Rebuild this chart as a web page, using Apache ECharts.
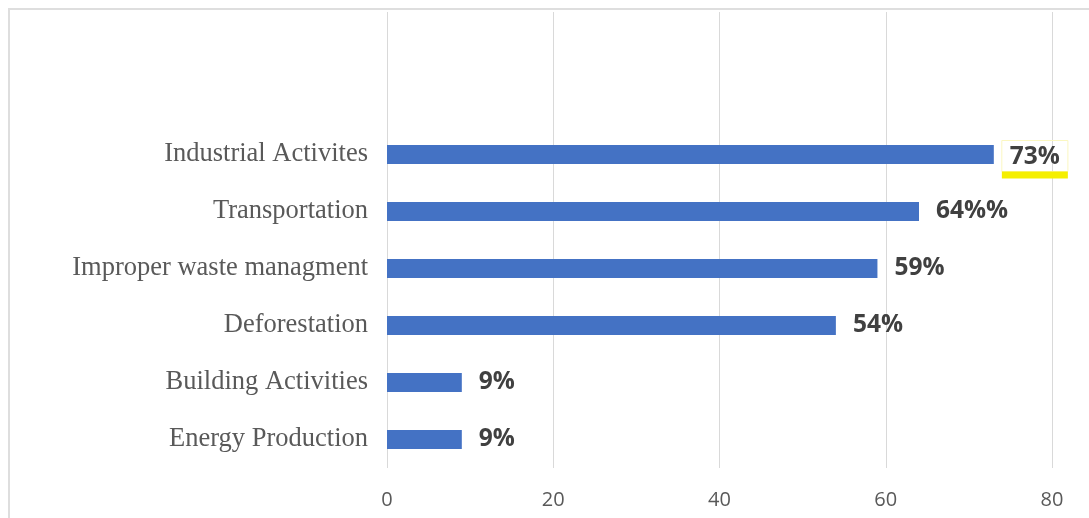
<!DOCTYPE html>
<html>
<head>
<meta charset="utf-8">
<script src="https://cdn.jsdelivr.net/npm/echarts@6/dist/echarts.min.js"></script>
<style>
    html, body { margin: 0; padding: 0; background: #fff; }
    #frame {
        position: absolute; left: 8px; top: 8px; width: 1100px; height: 530px;
        border-left: 2px solid #dedede; border-top: 2px solid #dedede;
    }
    #chart { position: absolute; left: 0; top: 0; width: 1089px; height: 518px; }
</style>
</head>
<body>
<div id="frame"></div>
<div id="chart"></div>
<script>
// top to bottom
const categories = [
    'Industrial Activites',
    'Transportation',
    'Improper waste managment',
    'Deforestation',
    'Building Activities',
    'Energy Production'
];
const values = [73, 64, 59, 54, 9, 9];
const value_labels = ['73%', '64%%', '59%', '54%', '9%', '9%'];
const x_ticks = [0, 20, 40, 60, 80];

const BAR_COLOR = '#4472C4';
const GRID_LINE_COLOR = '#d9d9d9';

let echarts_causes_graph = echarts.init(document.getElementById('chart'));

// two empty slots on top, the original plot area leaves room there
let y_data = ['', ''].concat(categories);
let bar_data = [null, null].concat(values.map(function (v, i) {
    let item = {value: v};
    if (i === 0) {
        // highlighted label of the first bar
        item.label = {
            formatter: '{h|' + value_labels[i] + '}\n{u|}',
            distance: 8,
            offset: [0, 5]
        };
    }
    return item;
}));

let echarts_options = {
    animation: false,
    grid: {
        left: 387,
        right: 37,
        top: 12,
        bottom: 50
    },
    xAxis: {
        type: 'value',
        min: x_ticks[0],
        max: x_ticks[x_ticks.length - 1],
        interval: 20,
        axisLine: {show: false},
        axisTick: {show: false},
        splitLine: {lineStyle: {color: GRID_LINE_COLOR, width: 1}},
        axisLabel: {
            color: '#595959',
            fontFamily: 'Open Sans',
            fontSize: 20,
            margin: 22
        }
    },
    yAxis: {
        type: 'category',
        inverse: true,
        data: y_data,
        axisLine: {show: false},
        axisTick: {show: false},
        axisLabel: {
            color: '#595959',
            fontFamily: 'Liberation Serif',
            fontSize: 26.5,
            padding: [6, 0, 0, 0],
            margin: 19
        }
    },
    series: [
        {
            type: 'bar',
            data: bar_data,
            barWidth: 19,
            itemStyle: {color: BAR_COLOR},
            label: {
                show: true,
                position: 'right',
                distance: 17,
                color: '#404040',
                fontFamily: 'Open Sans',
                fontWeight: 'bold',
                fontSize: 24.5,
                formatter: function (p) {
                    return value_labels[p.dataIndex - 2];
                },
                rich: {
                    h: {
                        color: '#404040',
                        fontFamily: 'Open Sans',
                        fontWeight: 'bold',
                        fontSize: 24.5,
                        padding: [4, 8, 2, 8],
                        borderColor: '#fbf7c0',
                        borderWidth: 1,
                        align: 'center'
                    },
                    u: {
                        backgroundColor: '#f5ef00',
                        width: 66,
                        height: 7,
                        align: 'center'
                    }
                }
            }
        }
    ]
};

echarts_causes_graph.setOption(echarts_options);
</script>
</body>
</html>
